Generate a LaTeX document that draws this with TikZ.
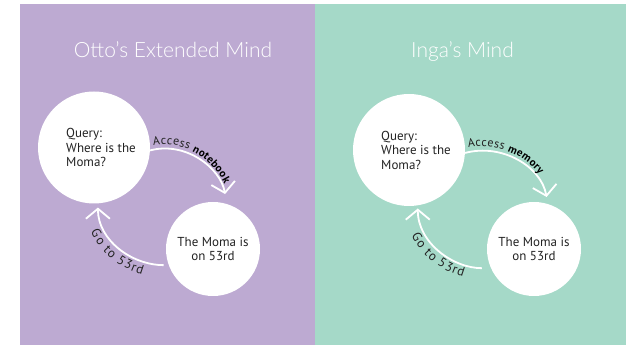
\documentclass[tikz,border=0pt]{standalone}
\usepackage{fontspec}
\setmainfont{PT Sans}
\IfFontExistsTF{Lato Light}{\newfontfamily\titlefont{Lato Light}}{\newfontfamily\titlefont{Lato}}
\usetikzlibrary{arrows.meta,decorations.text}
\definecolor{lilac}{RGB}{189,170,210}
\definecolor{mint}{RGB}{165,217,200}
\definecolor{ink}{RGB}{35,35,35}

\begin{document}
\begin{tikzpicture}[x=1pt,y=1pt,
    bubble/.style={circle,fill=white,inner sep=0pt,minimum size=#1},
    words/.style={text=ink,align=left,font=\fontsize{13}{14.5}\selectfont},
    heading/.style={text=white,anchor=base,font=\titlefont\fontsize{21}{25}\selectfont},
    flow/.style={draw=white,line width=1.8pt,
      -{Straight Barb[length=10pt,width=24pt,line width=1.8pt]}},
    along/.style={decorate,decoration={text along path,text={#1},raise=4pt,
      text align={left,left indent=4pt},text color=ink}},
    under/.style={decorate,decoration={text along path,text={#1},raise=-13pt,
      text align=center,text color=ink}}]
  \useasboundingbox (0,0) rectangle (633,355);

  % panels
  \fill[lilac] (20,10) rectangle (315,351);
  \fill[mint] (315,10) rectangle (626,351);

  % Otto
  \node[heading] (ottoT) at (173,297) {Otto’s Extended Mind};
  \node[bubble=112pt,label={[words,xshift=7pt]center:Query:\\Where is the\\Moma?}] (c1L) at (94,207.5) {};
  \node[bubble=94pt,words,align=center] (c2L) at (213,106) {The Moma is\\on 53rd};

  \draw[flow,shorten >=10pt] (c1L.-3) to[out=15,in=100] (c2L.73);
  \path[along={|\fontsize{12}{14}\selectfont|Access |\fontsize{11}{13}\selectfont\bfseries\color{black}|notebook}]
    (c1L.-3) to[out=15,in=100] (c2L.73);
  \draw[flow,shorten <=5pt,shorten >=4pt] (c2L.200) to[out=180,in=-90] (c1L.-86);
  \path[under={|\fontsize{13}{15}\selectfont|Go to 53rd}] (c1L.-86) to[out=-90,in=180] (c2L.200);

  % Inga
  \node[heading] (ingaT) at (462.5,297) {Inga’s Mind};
  \node[bubble=112pt,label={[words,xshift=7pt]center:Query:\\Where is the\\Moma?}] (c1R) at (409,205) {};
  \node[bubble=94pt,words,align=center] (c2R) at (534,106) {The Moma is\\on 53rd};

  \draw[flow,shorten >=7pt] (c1R.-3) to[out=15,in=100] (c2R.73);
  \path[along={|\fontsize{12}{14}\selectfont|Access |\fontsize{11}{13}\selectfont\bfseries\color{black}|memory}]
    (c1R.-3) to[out=15,in=100] (c2R.73);
  \draw[flow,shorten <=9pt,shorten >=3pt] (c2R.204) to[out=180,in=-90] (c1R.-81);
  \path[under={|\fontsize{13}{15}\selectfont|Go to 53rd}] (c1R.-81) to[out=-90,in=180] (c2R.204);
\end{tikzpicture}
\end{document}
